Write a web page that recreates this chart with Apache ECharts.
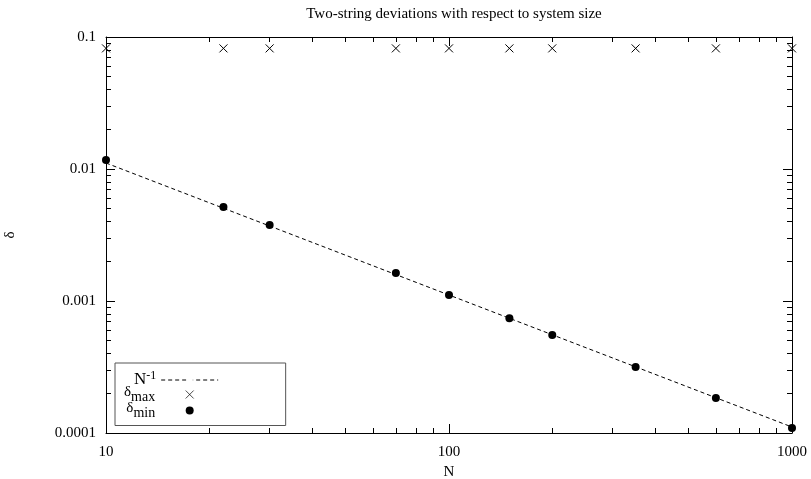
<!DOCTYPE html>
<html>
<head>
<meta charset="utf-8">
<script src="https://cdn.jsdelivr.net/npm/echarts@6/dist/echarts.min.js"></script>
<style>
  html, body { margin: 0; padding: 0; background: #fff; }
  #chart { width: 811px; height: 479px; }
</style>
</head>
<body>
<div id="chart"></div>
<script>
// system sizes and measured deviations
var nValues = [10, 22, 30, 70, 100, 150, 200, 350, 600, 1000];
var deltaMax = [0.082, 0.082, 0.082, 0.082, 0.082, 0.082, 0.082, 0.082, 0.082, 0.082];
var deltaMin = [0.0117, 0.00515, 0.00376, 0.00163, 0.00111, 0.00074, 0.000552, 0.000316, 0.000184, 0.000109];
// N^-1 reference line end points
var fitN = [10, 1000];
var fitDelta = [0.0111, 0.000111];

// tick positions
var xMajor = [10, 100, 1000];
var xMinor = [20, 30, 40, 50, 60, 70, 80, 90, 200, 300, 400, 500, 600, 700, 800, 900];
var yMajor = [0.0001, 0.001, 0.01, 0.1];
var yMinor = [0.0002, 0.0003, 0.0004, 0.0005, 0.0006, 0.0007, 0.0008, 0.0009,
  0.002, 0.003, 0.004, 0.005, 0.006, 0.007, 0.008, 0.009,
  0.02, 0.03, 0.04, 0.05, 0.06, 0.07, 0.08, 0.09];

var FONT = "Liberation Serif";

function pairs(xs, ys) {
  return xs.map(function (x, i) { return [x, ys[i]]; });
}

function logAxis(min, max, pos, ticks, len, opts) {
  var a = {
    type: "log",
    logBase: 10,
    min: min,
    max: max,
    position: pos,
    axisLine: { show: !!opts.line, lineStyle: { color: "#000", width: 1 } },
    axisTick: { show: true, inside: true, length: len, customValues: ticks,
      lineStyle: { color: "#000", width: 1 } },
    axisLabel: { show: false },
    splitLine: { show: false },
    minorTick: { show: false },
    minorSplitLine: { show: false }
  };
  if (opts.labels) {
    a.axisLabel = {
      show: true,
      customValues: opts.labels,
      fontFamily: FONT,
      fontSize: 15,
      color: "#000",
      margin: opts.margin,
      formatter: function (v) { return String(v); }
    };
  }
  if (opts.name) {
    a.name = opts.name;
    a.nameLocation = "middle";
    a.nameGap = opts.nameGap;
    a.nameTextStyle = { fontFamily: FONT, fontSize: 15, color: "#000" };
  }
  return a;
}

var names = { fit: "N^-1", max: "dmax", min: "dmin" };

var chart = echarts.init(document.getElementById("chart"));
var option = {
  animation: false,
  backgroundColor: "#fff",
  title: {
    text: "Two-string deviations with respect to system size",
    left: 449,
    textAlign: "center",
    top: 2,
    textStyle: { fontFamily: FONT, fontSize: 15, fontWeight: "normal", color: "#000" }
  },
  grid: { left: 106, right: 19, top: 37, bottom: 46, outerBoundsMode: "none", containLabel: false },
  legend: {
    orient: "vertical",
    align: "right",
    left: 115,
    top: 363,
    itemWidth: 57,
    itemHeight: 8,
    itemGap: -4,
    padding: [7, 67, 5, 9],
    borderColor: "#555",
    borderWidth: 1,
    selectedMode: false,
    lineStyle: { width: 1 },
    data: [names.fit, { name: names.max, itemStyle: { borderWidth: 0.7 } }, names.min],
    formatter: function (name) {
      if (name === names.fit) return "{b|N}{sup|-1}";
      if (name === names.max) return "{d|δ}{sub|max}{sp| }";
      return "{d|δ}{sub|min}{sp| }";
    },
    textStyle: {
      fontFamily: FONT,
      color: "#000",
      rich: {
        b: { fontFamily: FONT, fontSize: 17, lineHeight: 20, color: "#000", verticalAlign: "middle" },
        sup: { fontFamily: FONT, fontSize: 12, lineHeight: 8, color: "#000", verticalAlign: "top" },
        d: { fontFamily: FONT, fontSize: 15, lineHeight: 12, color: "#000", verticalAlign: "top" },
        sub: { fontFamily: FONT, fontSize: 14, lineHeight: 12, color: "#000", verticalAlign: "bottom" },
        sp: { fontSize: 1, lineHeight: 20, width: 1 }
      }
    }
  },
  xAxis: [
    logAxis(10, 1000, "bottom", xMajor, 9, { line: true, labels: xMajor, margin: 12, name: "N", nameGap: 29 }),
    logAxis(10, 1000, "bottom", xMinor, 5, {}),
    logAxis(10, 1000, "top", xMajor, 9, { line: true }),
    logAxis(10, 1000, "top", xMinor, 5, {})
  ],
  yAxis: [
    logAxis(0.0001, 0.1, "left", yMajor, 9, { line: true, labels: yMajor, margin: 10, name: "δ", nameGap: 88 }),
    logAxis(0.0001, 0.1, "left", yMinor, 5, {}),
    logAxis(0.0001, 0.1, "right", yMajor, 9, { line: true }),
    logAxis(0.0001, 0.1, "right", yMinor, 5, {})
  ],
  series: [
    {
      name: names.fit,
      type: "line",
      data: pairs(fitN, fitDelta),
      showSymbol: false,
      lineStyle: { color: "#000", width: 1, type: [4, 3] },
      itemStyle: { color: "transparent" },
      z: 2
    },
    {
      name: names.max,
      type: "scatter",
      data: pairs(nValues, deltaMax),
      symbol: "path://M0,0L10,10M10,0L0,10",
      symbolSize: 8,
      itemStyle: { color: "transparent", borderColor: "#000", borderWidth: 1, opacity: 1 },
      z: 3
    },
    {
      name: names.min,
      type: "scatter",
      data: pairs(nValues, deltaMin),
      symbol: "circle",
      symbolSize: 8,
      itemStyle: { color: "#000", opacity: 1 },
      z: 3
    }
  ]
};
chart.setOption(option);
</script>
</body>
</html>
